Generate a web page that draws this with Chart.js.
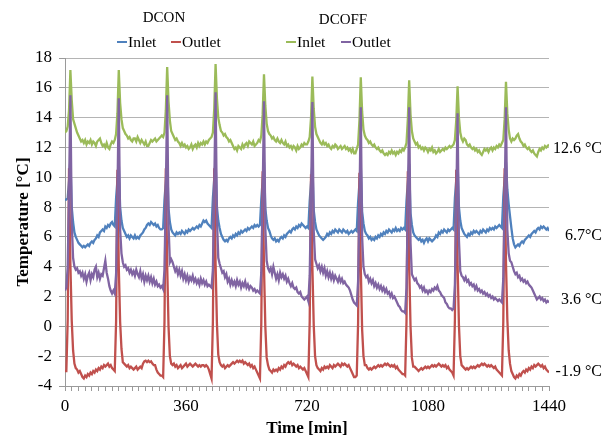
<!DOCTYPE html>
<html>
<head>
<meta charset="utf-8">
<script src="https://cdn.jsdelivr.net/npm/chart.js@4.4.1/dist/chart.umd.min.js"></script>
<style>
  html, body { margin: 0; padding: 0; background: #fff; }
  #wrap { position: relative; width: 614px; height: 441px; font-family: 'Liberation Serif', 'Times New Roman', serif; color: #000; }
  #chart { position: absolute; left: 0; top: 0; }
  .hd { position: absolute; white-space: nowrap; }
  .grp { font-size: 15px; line-height: 18px; transform: translateX(-50%); }
  .item { font-size: 15.5px; line-height: 18px; }
  .sw { display: inline-block; width: 10px; height: 2px; vertical-align: middle; position: relative; top: -1px; margin-right: 1px; }
</style>
</head>
<body>
<div id="wrap">
  <canvas id="chart" width="614" height="441"></canvas>
</div>
<script>
// Sampling interval of the logged temperatures (minutes)
const sampleStepMin = 4;

// Axis ticks
const xTickLabels = [0, 360, 720, 1080, 1440];
const xMinorStep = 20;
const yMin = -4, yMax = 18, yStep = 2;

// Legend and end-of-line texts
const groupNames = ['DCON', 'DCOFF'];
const seriesNames = ['Inlet', 'Outlet'];
const endLabels = ['12.6 °C', '6.7°C', '3.6 °C', '-1.9 °C'];

// DCOFF inlet temperature [°C], one row per defrost cycle
const dcoffInlet = [
  13.0,13.1,13.4,14.5,17.2,15.2,13.9,13.6,13.3,13.0,12.8,12.6,12.4,12.5,12.3,12.5,12.2,12.4,12.3,12.5,12.2,12.4,12.3,12.1,12.4,12.5,12.6,12.3,12.1,12.2,12.0,12.3,12.0,11.9,12.2,12.4,
  12.3,12.5,12.9,14.3,17.2,15.0,13.9,13.3,13.1,12.9,12.8,12.6,12.7,12.5,12.4,12.6,12.6,12.4,12.7,12.5,12.3,12.5,12.35,12.2,12.4,12.1,12.1,12.3,12.5,12.4,12.5,12.6,12.4,12.5,12.6,12.7,
  12.8,12.7,13.0,14.5,17.4,15.1,13.8,13.1,12.9,12.7,12.5,12.6,12.4,12.3,12.1,12.3,12.1,12.2,12.0,12.1,11.9,12.0,12.2,11.9,12.1,12.2,12.0,12.3,12.1,12.3,12.2,12.4,12.2,12.4,12.3,12.5,
  12.6,12.7,13.0,14.6,17.6,15.3,14.0,13.5,13.1,13.0,12.8,12.9,12.7,12.6,12.4,12.5,12.3,12.1,11.9,12.0,11.8,12.1,12.0,11.9,12.2,12.0,12.2,12.3,12.1,12.4,12.3,12.2,12.4,12.1,12.2,12.3,
  12.5,12.4,12.8,14.2,16.9,14.8,13.6,13.1,12.9,12.8,12.6,12.7,12.5,12.4,12.6,12.4,12.3,12.5,12.3,12.2,12.4,12.1,12.2,12.0,12.1,11.9,12.1,12.0,11.8,12.1,11.9,12.0,12.2,12.1,12.3,12.2,
  12.2,12.4,12.7,14.0,16.75,14.6,13.4,12.9,12.7,12.5,12.3,12.2,12.4,12.2,12.3,12.1,12.2,12.0,11.9,12.1,12.0,12.2,12.1,11.9,12.0,12.1,11.9,12.0,12.1,11.9,12.0,11.8,11.9,11.7,11.9,11.6,
  11.6,11.9,12.2,13.8,16.7,14.4,13.2,12.8,12.6,12.5,12.3,12.4,12.2,12.1,12.2,12.0,11.9,12.0,11.8,11.7,11.8,11.6,11.5,11.6,11.5,11.7,11.6,11.8,11.6,11.7,11.5,11.7,11.6,11.8,11.7,11.9,
  11.8,12.0,12.3,13.9,16.5,14.2,13.1,12.6,12.4,12.2,12.3,12.0,12.1,11.9,12.0,11.8,12.0,11.9,11.7,11.9,11.8,12.0,11.7,11.8,11.6,11.7,11.9,11.7,11.8,11.9,11.8,12.0,11.9,12.0,12.1,12.0,
  12.1,12.2,12.5,13.8,16.1,14.0,13.0,12.6,12.4,12.6,12.5,12.2,12.1,12.2,12.0,11.9,12.0,11.8,11.9,11.7,11.8,11.6,11.5,11.7,11.9,11.8,11.9,11.7,11.9,12.0,11.8,12.0,11.9,12.1,12.0,12.2,
  12.1,12.3,12.5,13.9,16.4,14.3,13.2,12.6,12.4,12.6,12.5,12.6,12.8,12.9,12.6,12.4,12.3,12.1,12.2,12.0,11.9,12.0,11.8,11.7,11.8,11.6,11.5,11.4,11.7,11.9,11.8,12.0,11.9,12.1,12.0,12.1,
  12.2
];

// DCON inlet temperature [°C]
const dconInlet = [
  8.5,8.5,8.6,9.8,11.2,8.0,7.0,6.3,6.0,5.8,5.6,5.5,5.4,5.3,5.4,5.3,5.4,5.5,5.4,5.6,5.7,5.6,5.8,5.9,6.1,6.0,6.3,6.4,6.5,6.4,6.7,6.6,6.8,6.7,6.9,7.0,
  6.8,6.7,8.6,9.8,11.0,8.0,7.1,6.6,6.4,6.2,6.0,6.1,5.9,6.1,6.0,5.9,6.1,5.9,6.0,5.9,6.1,6.2,6.3,6.5,6.6,6.8,6.9,6.8,7.0,6.9,6.8,6.9,6.7,6.8,6.6,6.5,
  6.5,6.6,8.5,9.7,11.0,7.9,7.0,6.5,6.3,6.2,6.1,6.3,6.2,6.3,6.2,6.4,6.3,6.2,6.4,6.3,6.5,6.4,6.5,6.6,6.5,6.6,6.7,6.6,6.8,6.7,6.9,7.1,7.0,7.1,6.9,6.8,
  6.7,6.6,8.6,9.9,11.2,8.0,7.1,6.6,6.2,6.0,5.8,5.7,5.8,5.7,5.9,6.0,5.9,6.1,6.0,6.2,6.1,6.3,6.2,6.4,6.3,6.4,6.5,6.4,6.6,6.5,6.6,6.7,6.6,6.8,6.7,6.8,
  6.7,6.8,8.5,9.8,11.0,7.9,7.1,6.6,6.4,6.1,5.9,5.8,5.9,5.7,5.8,5.7,5.9,6.0,5.9,6.1,6.0,6.2,6.3,6.4,6.3,6.5,6.6,6.5,6.7,6.6,6.8,6.7,6.9,6.8,6.7,6.6,
  6.7,6.6,8.4,9.7,10.9,7.8,7.0,6.5,6.3,6.1,6.0,5.9,5.8,5.9,6.0,6.2,6.1,6.3,6.2,6.4,6.3,6.5,6.4,6.3,6.5,6.4,6.3,6.5,6.4,6.3,6.4,6.2,6.3,6.4,6.3,6.4,
  6.5,6.4,8.3,9.6,10.8,7.7,6.9,6.4,6.2,6.1,5.9,6.0,5.8,5.9,5.8,6.0,5.9,6.1,6.0,6.2,6.1,6.3,6.2,6.4,6.3,6.5,6.4,6.3,6.5,6.4,6.6,6.4,6.5,6.4,6.6,6.5,
  6.6,6.5,8.4,9.7,10.9,7.6,6.8,6.3,6.1,6.0,5.9,5.8,5.9,5.7,5.8,5.6,5.8,5.9,5.7,5.9,5.8,5.7,5.8,5.9,6.1,6.0,6.3,6.2,6.4,6.3,6.5,6.4,6.3,6.5,6.4,6.5,
  6.6,6.5,8.6,9.8,11.0,8.0,7.1,6.6,6.4,6.2,6.1,6.0,6.2,6.1,6.3,6.2,6.4,6.3,6.4,6.3,6.2,6.4,6.3,6.5,6.4,6.3,6.5,6.4,6.6,6.5,6.6,6.5,6.7,6.6,6.7,6.8,
  6.7,6.6,8.7,9.9,11.0,9.2,8.2,7.4,6.6,5.9,5.5,5.3,5.4,5.5,5.4,5.6,5.7,5.6,5.8,5.9,6.0,6.1,6.0,6.2,6.3,6.4,6.3,6.5,6.6,6.5,6.7,6.6,6.7,6.6,6.5,6.6,
  6.4
];

// DCOFF outlet temperature [°C]
const dcoffOutlet = [
  2.4,2.6,4.0,9.0,15.5,7.0,4.6,4.0,3.8,3.9,3.6,3.7,3.4,3.6,3.2,3.5,3.0,3.4,3.6,3.1,3.5,3.3,3.8,4.0,3.3,3.6,3.2,3.5,3.4,3.9,4.4,3.6,3.2,2.7,2.4,2.2,
  2.4,2.2,3.5,8.8,15.3,6.5,4.9,4.3,4.0,4.1,3.8,3.9,3.6,3.8,3.5,3.7,3.4,3.8,3.5,3.3,3.7,3.2,3.5,3.0,3.4,3.1,3.4,3.0,3.3,2.9,3.2,2.8,3.0,2.7,2.8,2.6,
  2.7,2.5,3.8,9.0,15.5,6.8,4.3,4.5,4.3,4.0,3.7,3.9,3.5,3.8,3.4,3.7,3.2,3.5,3.1,3.4,3.0,3.3,3.1,3.4,3.0,3.2,2.9,3.1,2.8,3.2,2.9,3.1,2.8,3.0,2.7,2.8,
  2.7,2.6,3.8,9.2,15.7,7.2,4.6,4.2,3.9,3.6,3.7,3.3,3.5,3.0,3.2,2.8,3.1,2.8,3.0,2.7,3.1,2.8,3.0,2.6,2.9,2.7,3.0,2.6,2.8,2.5,2.7,2.6,2.4,2.5,2.3,2.4,
  2.3,2.2,3.6,8.6,15.1,6.6,4.4,3.9,3.7,3.9,3.5,4.0,3.6,3.2,3.5,3.1,3.6,3.3,3.5,3.2,3.4,3.0,3.2,2.9,2.7,2.9,2.6,2.5,2.6,2.3,2.2,2.3,2.0,1.9,1.8,1.9,
  2.0,1.7,3.4,8.5,15.05,6.4,4.5,4.2,3.9,4.1,3.7,4.0,3.6,3.9,3.4,3.7,3.3,3.6,3.2,3.5,3.1,3.4,3.2,3.0,3.3,3.0,3.2,2.9,3.0,2.8,2.7,2.6,2.4,2.1,1.8,1.6,
  1.5,1.4,3.0,8.3,14.7,6.0,4.0,3.5,3.3,3.4,3.0,3.2,2.9,3.1,2.7,2.9,2.6,2.8,2.5,2.7,2.4,2.6,2.3,2.5,2.2,2.3,2.0,2.2,1.9,2.0,1.8,1.6,1.4,1.3,1.1,1.0,
  1.0,0.9,2.6,8.2,14.7,5.6,3.5,3.3,3.1,3.2,2.9,2.8,2.6,2.7,2.4,2.6,2.3,2.4,2.2,2.4,2.3,2.5,2.4,2.6,2.5,2.7,2.4,2.3,2.1,2.0,1.9,1.6,1.5,1.3,1.2,1.2,
  1.1,1.2,2.8,8.0,14.3,5.8,3.7,3.4,3.3,3.1,3.3,3.0,3.1,2.8,2.9,2.7,2.8,2.5,2.7,2.4,2.5,2.3,2.4,2.2,2.3,2.1,2.2,2.0,2.1,1.9,2.0,1.8,1.9,1.8,1.7,1.8,
  1.7,1.6,3.2,8.3,14.7,6.5,4.9,4.4,4.3,4.0,3.7,3.5,3.6,3.3,3.4,3.1,3.2,3.0,3.1,2.9,3.0,2.8,2.7,2.6,2.4,2.2,2.0,1.8,1.9,2.0,1.8,1.9,1.7,1.8,1.6,1.7,
  1.6
];

// DCON outlet temperature [°C]
const dconOutlet = [
  -3.0,-3.0,0.4,10.6,4.2,0.4,-1.6,-2.5,-2.8,-2.9,-3.1,-3.0,-3.2,-3.4,-3.5,-3.3,-3.4,-3.2,-3.3,-3.1,-3.2,-3.0,-3.1,-2.9,-3.0,-2.8,-2.9,-2.7,-2.8,-2.6,-2.7,-2.6,-2.5,-2.7,-2.6,-2.8,
  -2.9,-3.0,0.3,10.5,4.0,0.3,-1.5,-2.4,-2.5,-2.6,-2.7,-2.6,-2.8,-2.7,-2.8,-2.9,-2.8,-2.7,-2.9,-2.8,-2.7,-2.8,-2.5,-2.35,-2.3,-2.4,-2.3,-2.4,-2.35,-2.5,-2.6,-2.6,-2.9,-3.1,-3.2,-3.3,
  -3.3,-3.4,0.3,10.6,4.1,0.0,-2.0,-2.5,-2.6,-2.5,-2.7,-2.6,-2.8,-2.7,-2.6,-2.8,-2.7,-2.6,-2.5,-2.7,-2.6,-2.5,-2.6,-2.7,-2.6,-2.5,-2.6,-2.7,-2.6,-2.7,-2.6,-2.6,-2.7,-2.6,-2.7,-2.9,
  -3.2,-3.5,0.3,10.6,4.2,0.2,-1.9,-2.4,-2.6,-2.7,-2.6,-2.8,-2.7,-2.6,-2.7,-2.6,-2.5,-2.4,-2.5,-2.4,-2.3,-2.4,-2.3,-2.4,-2.3,-2.5,-2.4,-2.5,-2.6,-2.5,-2.7,-2.6,-2.8,-2.7,-2.9,-3.1,
  -3.3,-3.5,0.2,10.4,4.0,0.0,-2.1,-2.6,-2.9,-3.0,-3.1,-2.9,-3.0,-2.9,-3.0,-2.8,-2.9,-2.7,-2.8,-2.6,-2.7,-2.5,-2.4,-2.5,-2.4,-2.6,-2.5,-2.6,-2.7,-2.6,-2.8,-2.7,-2.8,-2.9,-2.8,-3.0,
  -3.2,-3.4,0.3,10.2,4.0,0.1,-2.0,-2.6,-2.8,-2.9,-3.0,-2.8,-2.9,-2.7,-2.8,-2.7,-2.8,-2.6,-2.7,-2.8,-2.6,-2.7,-2.6,-2.5,-2.6,-2.7,-2.5,-2.6,-2.5,-2.6,-2.7,-2.6,-2.8,-3.0,-3.2,-3.4,
  -3.4,-3.3,0.2,10.3,4.0,-0.2,-2.0,-2.6,-2.6,-2.8,-2.9,-2.8,-2.9,-2.8,-2.7,-2.8,-2.7,-2.6,-2.7,-2.6,-2.7,-2.6,-2.5,-2.6,-2.5,-2.6,-2.7,-2.6,-2.7,-2.6,-2.8,-2.7,-2.9,-3.0,-3.1,-3.2,
  -3.2,-3.3,0.3,10.4,4.1,0.0,-2.1,-2.7,-2.7,-2.8,-2.9,-3.0,-2.9,-2.8,-2.9,-2.8,-2.7,-2.8,-2.7,-2.8,-2.7,-2.6,-2.7,-2.6,-2.7,-2.6,-2.5,-2.6,-2.7,-2.6,-2.7,-2.6,-2.8,-2.7,-2.9,-3.0,
  -3.1,-3.3,0.4,10.5,4.2,0.1,-2.0,-2.6,-2.7,-2.8,-2.9,-2.8,-2.9,-2.8,-2.7,-2.8,-2.7,-2.8,-2.7,-2.6,-2.7,-2.6,-2.5,-2.6,-2.5,-2.6,-2.7,-2.6,-2.7,-2.6,-2.7,-2.8,-2.7,-2.9,-3.0,-3.1,
  -3.2,-3.3,0.3,10.6,4.3,0.5,-1.6,-2.5,-3.0,-3.2,-3.4,-3.5,-3.3,-3.4,-3.2,-3.3,-3.1,-3.0,-3.1,-2.9,-3.0,-2.8,-2.9,-2.7,-2.8,-2.6,-2.7,-2.6,-2.5,-2.6,-2.7,-2.6,-2.8,-2.7,-2.9,-3.0,
  -3.1
];

const timeMin = dconInlet.map((_, i) => i * sampleStepMin);

const FONT = "'Liberation Serif', 'Times New Roman', serif";
const COLORS = { dconIn: '#4F81BD', dconOut: '#C0504D', dcoffIn: '#9BBB59', dcoffOut: '#8064A2' };
const AXIS_GREY = '#9a9a9a';
const GRID_GREY = '#b4b4b4';

// Header legend: group name above its two series
const wrap = document.getElementById('wrap');
const legendLayout = [
  { group: groupNames[0], cx: 164, top: 8, items: [[seriesNames[0], COLORS.dconIn, 117], [seriesNames[1], COLORS.dconOut, 171]] },
  { group: groupNames[1], cx: 343, top: 10, items: [[seriesNames[0], COLORS.dcoffIn, 286], [seriesNames[1], COLORS.dcoffOut, 341]] }
];
legendLayout.forEach(g => {
  const h = document.createElement('div');
  h.className = 'hd grp';
  h.style.left = g.cx + 'px';
  h.style.top = g.top + 'px';
  h.textContent = g.group;
  wrap.appendChild(h);
  g.items.forEach(([name, color, left]) => {
    const d = document.createElement('div');
    d.className = 'hd item';
    d.style.left = left + 'px';
    d.style.top = '33px';
    const sw = document.createElement('span');
    sw.className = 'sw';
    sw.style.background = color;
    d.appendChild(sw);
    d.appendChild(document.createTextNode(name));
    wrap.appendChild(d);
  });
});

// Mean-temperature captions at the right end of each curve
const endLabelPlugin = {
  id: 'endLabels',
  afterDatasetsDraw(chart, args, opts) {
    const { ctx, chartArea, scales: { y } } = chart;
    ctx.save();
    ctx.font = '16px ' + FONT;
    ctx.fillStyle = '#000';
    ctx.textAlign = 'right';
    ctx.textBaseline = 'middle';
    endLabels.forEach((txt, i) => {
      ctx.fillText(txt, chartArea.right + opts.offsetX, y.getPixelForValue(opts.levels[i]));
    });
    ctx.restore();
  }
};

const line = (label, data, color, order) => ({
  label, data, borderColor: color, backgroundColor: color, order,
  borderWidth: 2.3, pointRadius: 0, tension: 0, fill: false
});

new Chart(document.getElementById('chart'), {
  type: 'line',
  data: {
    labels: timeMin,
    datasets: [
      line('DCON Inlet', dconInlet, COLORS.dconIn, 3),
      line('DCON Outlet', dconOutlet, COLORS.dconOut, 2),
      line('DCOFF Inlet', dcoffInlet, COLORS.dcoffIn, 1),
      line('DCOFF Outlet', dcoffOutlet, COLORS.dcoffOut, 0)
    ]
  },
  options: {
    responsive: false,
    animation: false,
    devicePixelRatio: 1,
    events: [],
    layout: { padding: { top: 58, right: 65, left: 0, bottom: 0 } },
    plugins: {
      legend: { display: false },
      tooltip: { enabled: false },
      endLabels: { levels: [11.9, 6.05, 1.8, -3.05], offsetX: 53 }
    },
    scales: {
      x: {
        type: 'linear',
        min: xTickLabels[0],
        max: xTickLabels[xTickLabels.length - 1],
        afterBuildTicks(scale) {
          const t = [];
          for (let v = scale.min; v <= scale.max; v += xMinorStep) t.push({ value: v });
          scale.ticks = t;
        },
        afterFit(scale) { scale.height = 55; },
        ticks: {
          autoSkip: false, maxRotation: 0, padding: 5, color: '#000',
          font: { family: FONT, size: 17 },
          callback: v => xTickLabels.includes(v) ? String(v) : ''
        },
        grid: { display: true, drawOnChartArea: false, drawTicks: true, tickLength: 5, color: AXIS_GREY, lineWidth: 1 },
        border: { display: true, color: AXIS_GREY, width: 1 },
        title: {
          display: true, text: 'Time [min]', color: '#000',
          font: { family: FONT, size: 17, weight: 'bold' },
          padding: { top: 0, bottom: 2 }
        }
      },
      y: {
        min: yMin, max: yMax,
        afterFit(scale) { scale.width = 65; },
        ticks: { stepSize: yStep, padding: 7, color: '#000', font: { family: FONT, size: 17 } },
        grid: { color: GRID_GREY, lineWidth: 1, tickLength: 6, tickColor: AXIS_GREY },
        border: { display: true, color: AXIS_GREY, width: 1 },
        title: {
          display: true, text: 'Temperature [°C]', color: '#000',
          font: { family: FONT, size: 17, weight: 'bold' },
          padding: { top: 13, bottom: 0 }
        }
      }
    }
  },
  plugins: [endLabelPlugin]
});
</script>
</body>
</html>
